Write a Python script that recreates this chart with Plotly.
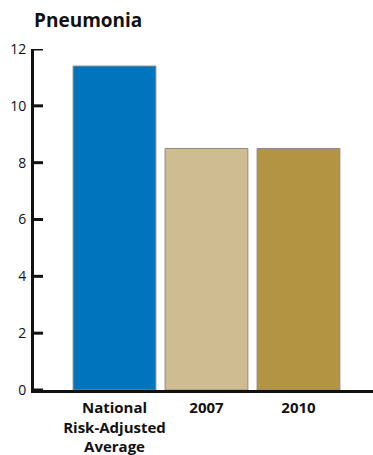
import plotly.graph_objects as go

# Pneumonia rates by comparison group
categories = ["National<br>Risk-Adjusted<br>Average", "2007", "2010"]
values = [11.4, 8.5, 8.5]
bar_colors = ["#0074BD", "#CFBC90", "#B39442"]
y_ticks = [0, 2, 4, 6, 8, 10, 12]

FONT = "'Open Sans', 'Noto Sans', sans-serif"
PLOT_W = 373 - 34

fig = go.Figure(
    go.Bar(
        x=[0, 1, 2],
        y=values,
        width=0.9,
        marker=dict(color=bar_colors, line=dict(color="#8a8a8a", width=1)),
        hoverinfo="skip",
    )
)

# short inward tick marks on the value axis
for t in y_ticks:
    fig.add_shape(
        type="line",
        xref="paper", yref="y",
        x0=0, x1=9 / PLOT_W, y0=t, y1=t,
        line=dict(color="#111", width=3),
        layer="above",
    )

fig.update_layout(
    width=373,
    height=455,
    margin=dict(l=34, r=0, t=49, b=65),
    paper_bgcolor="white",
    plot_bgcolor="white",
    showlegend=False,
    font=dict(family=FONT, color="#222"),
    title=dict(
        text="<b>Pneumonia</b>",
        x=34 / 373,
        xanchor="left",
        y=1 - 20 / 455,
        yanchor="middle",
        font=dict(size=19, family=FONT, color="#111"),
    ),
)

fig.update_xaxes(
    range=[-0.875, 2.81],
    tickmode="array",
    tickvals=[0, 1, 2],
    ticktext=[f"<b>{c}</b>" for c in categories],
    tickfont=dict(size=15, family=FONT, color="#111"),
    showgrid=False,
    zeroline=False,
    showline=True,
    linecolor="#111",
    linewidth=3,
    ticks="",
    ticklabelstandoff=2,
)

fig.update_yaxes(
    range=[0, 12],
    tickmode="array",
    tickvals=y_ticks,
    tickfont=dict(size=14, family=FONT, color="#111"),
    showgrid=False,
    zeroline=False,
    showline=True,
    linecolor="#111",
    linewidth=3,
    ticks="",
    ticklabelstandoff=2,
)

fig.write_html("out.html")
